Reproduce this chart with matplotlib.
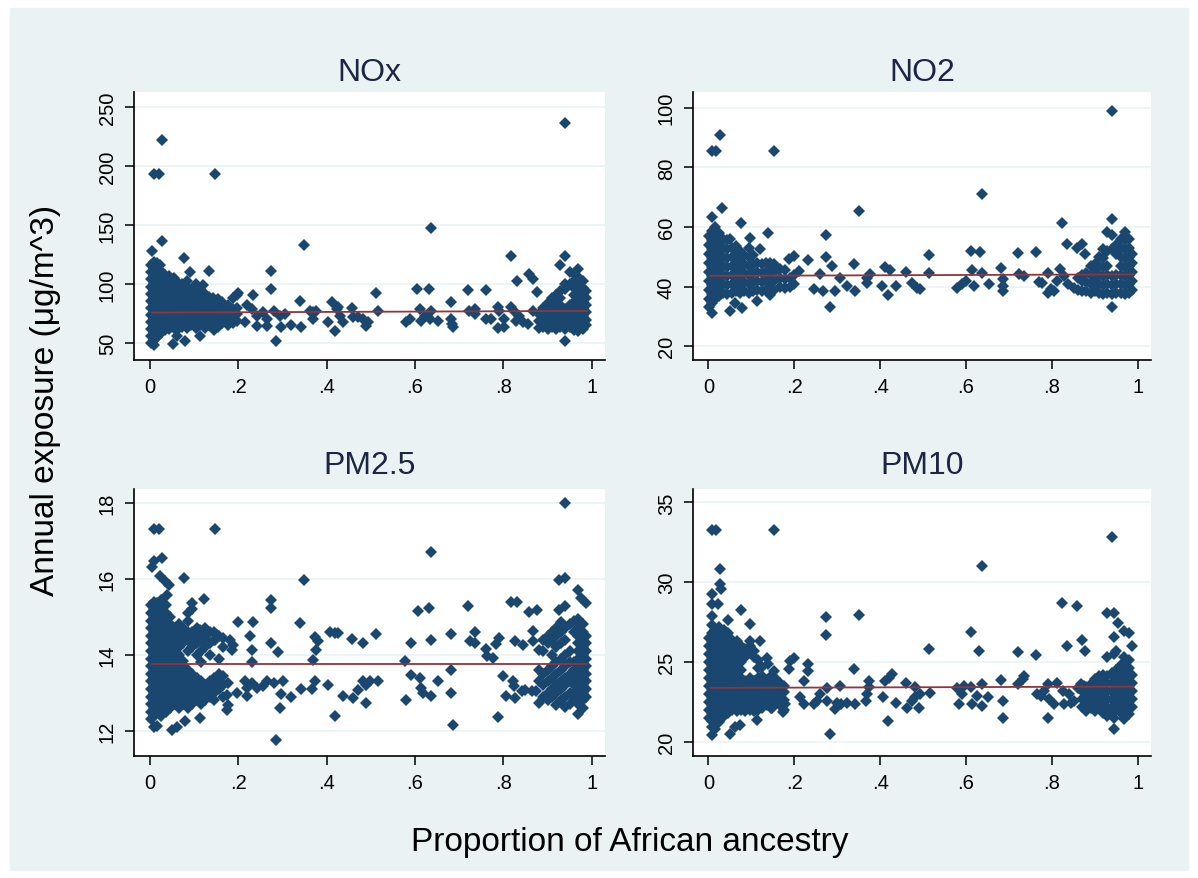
import matplotlib
matplotlib.use("Agg")
import matplotlib.pyplot as plt
from matplotlib.patches import Rectangle

# points, grouped by x: (x, [y values])
nox_cols = [
    (0.002, [50, 56, 62, 68, 74, 80, 86, 92, 98, 104, 110, 116]), (0.005, [127.8]),
    (0.009, [48, 53, 59, 65, 71, 77, 83, 89, 95, 101, 107, 113, 119, 193.2]),
    (0.016, [55, 60, 66, 72, 78, 84, 90, 96, 102, 108, 114, 118]), (0.020, [193.2]),
    (0.024, [58, 63, 69, 75, 81, 87, 93, 99, 105, 112, 116]), (0.028, [136.6, 221.9]),
    (0.034, [61, 66, 72, 78, 84, 90, 96, 102, 108]),
    (0.044, [62, 68, 74, 80, 86, 92, 98, 104, 107]), (0.052, [49]),
    (0.054, [63, 69, 75, 81, 87, 93, 99, 105]), (0.062, [55.7]),
    (0.064, [62, 67, 73, 79, 85, 91, 97, 101]),
    (0.074, [64, 70, 76, 82, 88, 94, 100]), (0.077, [122.4]), (0.080, [51.4]),
    (0.084, [63, 68, 74, 80, 86, 92, 98, 103]), (0.092, [110]),
    (0.094, [65, 71, 77, 83, 89, 95]), (0.104, [63, 69, 75, 81, 87, 93, 100]),
    (0.113, [55.7]), (0.114, [65, 71, 77, 83, 89, 96]), (0.120, [99]),
    (0.124, [63, 68, 74, 80, 86, 92]), (0.133, [110.8]), (0.134, [65, 71, 77, 83, 89]),
    (0.144, [66, 72, 78, 84, 88]), (0.146, [61.4]), (0.148, [193]),
    (0.154, [64, 70, 76, 82, 87]), (0.164, [67, 73, 79, 85]), (0.176, [65, 70, 76, 82]),
    (0.188, [67, 73, 79, 88]), (0.198, [69, 75, 80, 91]),
    (0.200, [92.6]), (0.216, [67.6]), (0.220, [82]), (0.231, [79]), (0.233, [91]),
    (0.242, [64.8, 73]), (0.257, [76]), (0.265, [64.8, 70.5]), (0.274, [96, 110.8]),
    (0.280, [77.6]), (0.285, [51.4]), (0.294, [73]), (0.298, [63.4]), (0.305, [74.7]),
    (0.319, [65.6]), (0.340, [85.5]), (0.342, [63.4]), (0.350, [133]), (0.362, [77.6]),
    (0.370, [70.5, 76]), (0.377, [77.6]), (0.404, [67.6]), (0.413, [84.7]), (0.419, [60.5]),
    (0.423, [79]), (0.426, [81]), (0.430, [73]), (0.438, [67.6]), (0.458, [79.5]),
    (0.460, [72]), (0.471, [72]), (0.482, [70.5]), (0.490, [64.2]), (0.494, [67.6]),
    (0.511, [92.3]), (0.517, [77.6]),
    (0.580, [67.6]), (0.588, [70.5]), (0.605, [96]), (0.611, [79]), (0.614, [69]),
    (0.622, [73]), (0.631, [96]), (0.633, [70.5]), (0.637, [77.6, 147.2]), (0.652, [68.5]),
    (0.682, [70.5, 84.7]), (0.684, [66]), (0.686, [63.4]),
    (0.721, [95]), (0.723, [77.6]), (0.735, [74.7, 79]), (0.761, [70.5, 95]), (0.772, [70.5]),
    (0.787, [62.5, 80.4]), (0.791, [77.6]), (0.802, [63.4, 70.5]), (0.817, [80.4, 123.9]),
    (0.825, [77.6]), (0.829, [69]), (0.831, [102.6]), (0.836, [73]), (0.844, [67.6]),
    (0.855, [66.2]), (0.859, [108.8]), (0.866, [77.6, 104.5]), (0.876, [93.7]),
    (0.880, [63, 69, 75]), (0.890, [64, 70, 76, 80]), (0.900, [62, 67, 73, 79, 84]),
    (0.910, [64, 70, 76, 82, 88]), (0.920, [62, 67, 73, 79, 85, 91]),
    (0.929, [64, 70, 76, 82, 88, 94, 116]),
    (0.940, [52, 62, 67, 73, 79, 96, 100, 124, 236.6]),
    (0.950, [64, 70, 76, 82, 100, 110]),
    (0.960, [61, 67, 73, 79, 85, 91, 97, 103, 109]),
    (0.970, [60, 64, 70, 76, 82, 88, 94, 100, 106, 113]),
    (0.980, [62, 67, 73, 79, 85, 91, 97, 103]), (0.988, [65, 70, 76, 82, 88, 94]),
]

no2_cols = [
    (0.002, [33, 36, 39, 42, 45, 48, 51, 54, 57]),
    (0.008, [31.3, 34.5, 37.5, 40.5, 43.5, 46.5, 49.5, 52.5, 55.5, 58.5, 63.5, 85.5]),
    (0.016, [36, 39, 42, 45, 48, 51, 54, 57, 60]), (0.019, [85.5]),
    (0.024, [37, 40, 43, 46, 49, 52, 55, 58]), (0.027, [90.8]), (0.031, [66.2]),
    (0.034, [38, 41, 44, 47, 50, 53, 56]),
    (0.044, [37.5, 40.5, 43.5, 46.5, 49.5, 52.5, 55.5]), (0.050, [31.8, 55.9]),
    (0.054, [38, 41, 44, 47, 50, 53]), (0.062, [34.6]),
    (0.064, [38.5, 41.5, 44.5, 47.5, 50.5, 53.5]),
    (0.074, [38, 41, 44, 47, 50, 52]), (0.075, [61.5]), (0.079, [32.7]),
    (0.084, [38.5, 41.5, 44.5, 47.5, 50.5]), (0.094, [38, 41, 44, 47, 50, 53]),
    (0.097, [56.4]), (0.104, [38.5, 41.5, 44.5, 47.5, 50.5]), (0.113, [35.2]),
    (0.114, [39, 42, 45, 48]), (0.121, [52.5]), (0.124, [38.5, 41.5, 44.5, 47.5]),
    (0.134, [39, 42, 45, 48]), (0.138, [57.9]), (0.144, [37.1, 39.5, 42.5, 45.5, 48]),
    (0.152, [85.5]), (0.154, [39, 42, 45, 47.5]), (0.166, [40, 43, 46]),
    (0.178, [39.5, 42.5, 45.5]), (0.187, [49.2]), (0.190, [40, 43]), (0.200, [41, 44, 50.3]),
    (0.210, [45.3]), (0.232, [49]), (0.245, [39.1]), (0.260, [44.1]), (0.268, [38.5]),
    (0.274, [50, 57.3]), (0.284, [33]), (0.288, [46.9]), (0.296, [38.5]), (0.307, [43]),
    (0.323, [40.2]), (0.339, [47.5]), (0.342, [38.5]), (0.350, [65.4]), (0.370, [41.3, 43]),
    (0.377, [44.1]), (0.405, [40.2]), (0.412, [46.6]), (0.419, [37.1]), (0.424, [45.5]),
    (0.436, [40.2]), (0.460, [44.9]), (0.475, [41.3]), (0.486, [39.7]), (0.494, [39.1]),
    (0.514, [44.7, 50.6]),
    (0.580, [39.7]), (0.591, [40.8]), (0.600, [41.9]), (0.611, [52]), (0.613, [45.5]),
    (0.619, [40.2]), (0.632, [51.6]), (0.638, [44.7, 71]), (0.654, [40.8]), (0.682, [46.4]),
    (0.685, [38.5, 40.2, 42.5]),
    (0.720, [51.2]), (0.724, [44.1]), (0.735, [43.6]), (0.763, [51.6]), (0.770, [41.6]),
    (0.778, [41.3]), (0.790, [37.8, 44.7]), (0.798, [39.1]), (0.805, [38.5]), (0.813, [41.9]),
    (0.820, [45.8]), (0.823, [61.5]), (0.829, [43.6]), (0.835, [54.2]), (0.837, [40.8]),
    (0.852, [39.7]), (0.858, [53.1]), (0.860, [39, 43]), (0.870, [38.5, 42, 44, 54.2]),
    (0.877, [51]), (0.880, [38.5, 41.5, 44.5]), (0.890, [38, 41, 44, 47]),
    (0.900, [38.5, 41.5, 44.5, 47.5]), (0.910, [38, 41, 44, 47, 50]),
    (0.920, [37.5, 40.5, 43.5, 46.5, 49.5, 52.5]), (0.928, [38, 41, 44, 47, 52, 58.3]),
    (0.940, [33, 37.5, 40.5, 43.5, 52.5, 57.3, 62.6, 98.9]), (0.950, [38, 41, 44, 51, 54]),
    (0.960, [38, 41, 44, 47, 50, 53, 56]),
    (0.970, [37.5, 40.5, 43.5, 46.5, 49.5, 52.5, 55.5, 58.3]),
    (0.980, [38, 41, 44, 47, 50, 53, 56]), (0.987, [39, 42, 45, 48, 51]),
]

pm25_cols = [
    (0.002, [12.3, 12.5, 12.7, 12.9, 13.1, 13.3, 13.5, 13.7, 13.9, 14.1, 14.3, 14.5, 14.7, 14.9, 15.1, 15.3]),
    (0.005, [16.32]),
    (0.009, [12.09, 12.4, 12.6, 12.8, 13.0, 13.2, 13.4, 13.6, 13.8, 14.0, 14.2, 14.4, 14.6, 14.8, 15.0, 15.2, 15.4, 16.46, 17.31]),
    (0.017, [12.14, 12.5, 12.7, 12.9, 13.1, 13.3, 13.5, 13.7, 13.9, 14.1, 14.3, 14.5, 14.7, 14.9, 15.1, 15.35]),
    (0.020, [17.31]), (0.024, [16.06]),
    (0.026, [12.4, 12.6, 12.8, 13.0, 13.2, 13.4, 13.6, 13.8, 14.0, 14.2, 14.4, 14.6, 14.8, 15.0, 15.2, 15.45]),
    (0.028, [16.54]), (0.035, [15.93]),
    (0.036, [12.5, 12.7, 12.9, 13.1, 13.3, 13.5, 13.7, 13.9, 14.1, 14.3, 14.5, 14.7, 14.9, 15.1, 15.3]),
    (0.039, [15.58]), (0.043, [15.84]),
    (0.046, [12.6, 12.8, 13.0, 13.2, 13.4, 13.6, 13.8, 14.0, 14.2, 14.4, 14.6, 14.8, 15.0]),
    (0.050, [12.03]),
    (0.056, [12.7, 12.9, 13.1, 13.3, 13.5, 13.7, 13.9, 14.1, 14.3, 14.5, 14.7]),
    (0.062, [12.09]),
    (0.066, [12.6, 12.8, 13.0, 13.2, 13.4, 13.6, 13.8, 14.0, 14.2, 14.4, 14.6, 14.8]),
    (0.076, [12.7, 12.9, 13.1, 13.3, 13.5, 13.7, 13.85, 14.3, 14.5, 14.7]),
    (0.077, [16.02]), (0.080, [12.26]),
    (0.086, [12.6, 12.8, 13.0, 13.2, 13.4, 13.6, 14.1, 14.4, 14.6, 14.9, 15.1]),
    (0.096, [12.7, 12.9, 13.1, 13.3, 13.5, 14.2, 14.4, 14.6, 15.2, 15.35]),
    (0.106, [12.8, 13.0, 13.2, 13.4, 14.0, 14.3, 14.5, 14.7]), (0.114, [12.35, 14.66]),
    (0.116, [12.7, 12.9, 13.1, 13.3, 13.8, 14.1, 14.4, 14.6]), (0.122, [15.47]),
    (0.126, [12.8, 13.0, 13.2, 14.2, 14.5, 14.7]), (0.129, [14.35]),
    (0.136, [12.9, 13.1, 13.3, 14.0, 14.3, 14.6]), (0.146, [12.8, 13.0, 13.2, 13.4, 14.4, 14.6]),
    (0.148, [14.39, 17.31]), (0.152, [14.53]), (0.156, [13.1, 13.3, 13.5, 13.9, 14.5]),
    (0.166, [12.9, 13.2, 13.45, 14.2, 14.45]), (0.174, [12.55, 12.95]), (0.178, [12.68, 13.25]),
    (0.182, [14.39]), (0.186, [14.13]), (0.189, [14.26]), (0.197, [13.0]),
    (0.200, [14.86]), (0.216, [13.3]), (0.220, [12.93, 13.14]), (0.227, [14.5]),
    (0.231, [13.25, 13.82, 14.13]), (0.233, [14.86]), (0.242, [13.12]), (0.257, [13.17]),
    (0.265, [13.3]), (0.274, [14.31, 15.23, 15.45]), (0.280, [13.25]), (0.285, [11.75]),
    (0.291, [14.07]), (0.295, [12.6]), (0.298, [12.96]), (0.302, [13.32]), (0.319, [12.9]),
    (0.340, [14.83]), (0.342, [13.1]), (0.350, [15.96]), (0.366, [13.1]), (0.370, [13.87]),
    (0.374, [13.32, 14.46]), (0.377, [14.13]), (0.381, [14.37]), (0.404, [13.21]),
    (0.407, [14.59]), (0.419, [12.4, 14.57]), (0.426, [14.57]), (0.438, [12.93]),
    (0.458, [14.42]), (0.460, [12.86]), (0.471, [13.08]), (0.483, [13.3, 14.31]),
    (0.490, [12.73, 13.21]), (0.498, [13.3]), (0.511, [14.54]), (0.517, [13.3]),
    (0.577, [13.85]), (0.580, [12.8]), (0.592, [13.47, 14.31]), (0.607, [15.16]),
    (0.611, [13.39]), (0.614, [13.12]), (0.618, [12.99]), (0.631, [15.23]),
    (0.637, [12.93, 14.38, 16.69]), (0.652, [13.3]), (0.682, [12.99, 13.61, 14.54]), (0.686, [12.16]),
    (0.720, [15.27]), (0.724, [14.37]), (0.735, [14.31, 14.6]), (0.761, [14.15]), (0.764, [13.96]),
    (0.776, [13.91]), (0.783, [14.28]), (0.787, [12.36]), (0.791, [14.44]), (0.799, [13.43]),
    (0.805, [12.93]), (0.817, [15.39]), (0.821, [13.3]), (0.825, [13.17]), (0.826, [14.37]),
    (0.827, [12.86]), (0.832, [15.39]), (0.842, [13.04]), (0.844, [14.26]), (0.850, [13.08]),
    (0.859, [15.12]), (0.865, [13.04]), (0.866, [14.35, 14.63]), (0.874, [13.04]), (0.877, [15.18]),
    (0.881, [12.73, 13.3, 13.61, 14.13]),
    (0.890, [12.9, 13.2, 13.5, 14.1, 14.4]), (0.900, [12.8, 13.0, 13.3, 13.6, 14.3, 14.5]),
    (0.910, [12.9, 13.1, 13.4, 13.7, 14.0, 14.4, 14.6]),
    (0.919, [12.68, 13.0, 13.2, 13.5, 13.8, 14.2, 14.5, 14.7]), (0.925, [15.18, 15.96]),
    (0.930, [12.8, 13.1, 13.3, 13.6, 13.9, 14.3, 14.6, 14.85]),
    (0.939, [12.64, 12.9, 13.2, 13.4, 13.7, 14.0, 14.4, 14.7, 15.27, 16.02, 17.99]),
    (0.950, [12.7, 13.0, 13.3, 13.5, 13.8, 14.1, 14.8]),
    (0.960, [12.8, 13.0, 13.2, 13.4, 13.6, 13.8, 14.6, 14.9]),
    (0.969, [12.45, 12.7, 12.9, 13.1, 13.3, 13.5, 13.7, 13.9, 14.1, 14.3, 14.5, 14.7, 14.95, 15.71]),
    (0.976, [15.49]),
    (0.980, [12.6, 12.8, 13.0, 13.2, 13.4, 13.6, 13.8, 14.0, 14.2, 14.4, 14.6, 14.8]),
    (0.986, [12.9, 13.1, 13.3, 13.5, 13.7, 13.9, 14.1, 14.3, 14.5, 15.36]),
]

pm10_cols = [
    (0.002, [21.5, 22.0, 22.5, 23.0, 23.5, 24.0, 24.5, 25.0, 25.5, 26.0, 26.5]),
    (0.008, [20.4, 20.9, 21.3, 21.8, 22.3, 22.8, 23.3, 23.8, 24.3, 24.8, 25.3, 25.8, 26.3, 26.8, 27.3, 27.9, 28.6, 29.24, 33.29]),
    (0.016, [20.8, 21.5, 22.0, 22.5, 23.0, 23.5, 24.0, 24.5, 25.0, 25.5, 26.0, 26.5, 27.0]),
    (0.019, [33.29]), (0.023, [28.6]),
    (0.026, [21.2, 21.8, 22.3, 22.8, 23.3, 23.8, 24.3, 24.8, 25.3, 25.8, 26.3, 26.8, 27.2]),
    (0.027, [29.86, 30.8]), (0.030, [29.55]),
    (0.036, [21.6, 22.0, 22.5, 23.0, 23.5, 24.0, 24.5, 25.0, 25.5, 26.0, 26.5, 27.0]),
    (0.046, [21.8, 22.3, 22.8, 23.3, 23.8, 24.3, 24.8, 25.3, 25.8, 26.3, 26.8, 27.63]),
    (0.050, [20.49]),
    (0.056, [22.0, 22.5, 23.0, 23.5, 24.0, 24.5, 25.0, 25.5, 26.0, 26.4]),
    (0.062, [20.92]),
    (0.066, [21.9, 22.3, 22.8, 23.3, 23.8, 24.3, 24.8, 25.3, 25.8, 26.3]),
    (0.074, [21.07]), (0.075, [28.24]),
    (0.076, [22.0, 22.5, 23.0, 23.5, 24.0, 24.5, 25.0, 25.5, 26.0]),
    (0.086, [21.9, 22.3, 22.8, 23.3, 23.8, 25.3, 25.8]),
    (0.096, [22.0, 22.5, 23.0, 23.5, 24.0, 25.6, 26.0]), (0.097, [26.3, 27.36]),
    (0.106, [21.9, 22.3, 22.8, 23.3, 23.8, 25.3, 25.7]), (0.113, [21.34]),
    (0.116, [22.0, 22.5, 23.0, 23.5, 24.0, 24.6, 25.1]), (0.121, [26.3]),
    (0.126, [22.1, 22.6, 23.1, 23.6, 24.1, 24.7]),
    (0.136, [22.3, 22.55, 22.8, 23.3, 23.8, 25.27]), (0.140, [24.85]),
    (0.146, [22.1, 22.6, 23.1, 23.6, 24.1]), (0.148, [22.14]), (0.152, [24.44, 33.29]),
    (0.156, [22.5, 23.0, 23.5, 24.0]), (0.166, [22.3, 22.8, 23.3, 23.7]), (0.167, [23.18]),
    (0.175, [21.83]), (0.176, [22.0, 22.6, 23.1, 23.5]), (0.179, [22.35]),
    (0.187, [24.54]), (0.190, [25.06]),
    (0.200, [25.27]), (0.214, [22.77]), (0.222, [22.35]), (0.223, [23.81]), (0.232, [24.44, 24.85]),
    (0.245, [22.35]), (0.253, [22.55]), (0.261, [22.97]), (0.274, [26.67, 27.84]),
    (0.276, [22.55, 23.39]), (0.284, [20.51]), (0.296, [22.04]), (0.300, [22.45]), (0.307, [23.5]),
    (0.310, [22.35]), (0.323, [22.45]), (0.339, [24.58]), (0.342, [22.35]), (0.350, [27.92]),
    (0.366, [22.56]), (0.370, [22.97]), (0.374, [23.43, 23.81]), (0.406, [22.77]), (0.412, [23.81]),
    (0.418, [21.3]), (0.420, [24.02]), (0.428, [24.23]), (0.436, [22.41]), (0.460, [23.7]),
    (0.463, [22.14]), (0.475, [22.55]), (0.482, [22.77, 23.43]), (0.490, [22.14]), (0.494, [22.97]),
    (0.514, [25.79]), (0.516, [23.02]),
    (0.580, [23.39]), (0.584, [22.35]), (0.591, [22.97]), (0.595, [23.5]), (0.611, [23.43, 26.88]),
    (0.615, [22.35]), (0.626, [22.87]), (0.630, [25.69]), (0.638, [22.24, 23.6, 31.01]),
    (0.652, [22.81]), (0.682, [23.87]), (0.685, [22.55]), (0.687, [21.5]),
    (0.720, [23.64, 25.63]), (0.732, [23.91]), (0.735, [24.12]), (0.763, [25.42]), (0.766, [22.97]),
    (0.774, [22.87]), (0.782, [23.18]), (0.790, [21.47, 23.6]), (0.794, [22.66]), (0.805, [22.35]),
    (0.813, [23.7]), (0.823, [28.72]), (0.825, [23.18]), (0.829, [22.35]), (0.835, [26.0]),
    (0.840, [22.97]), (0.844, [22.45]), (0.852, [22.55]), (0.858, [28.5]), (0.860, [23.39]),
    (0.868, [23.6]), (0.870, [22.2, 22.7, 23.2, 26.38]), (0.875, [23.5]), (0.877, [25.69]),
    (0.880, [21.9, 22.4, 22.9, 23.4]), (0.890, [22.1, 22.6, 23.1, 23.6]),
    (0.900, [21.9, 22.4, 22.9, 23.4, 23.9]), (0.910, [22.2, 22.7, 23.2, 23.7, 24.1]),
    (0.920, [21.8, 22.3, 22.8, 23.3, 23.8, 24.2]),
    (0.928, [21.62, 22.1, 22.6, 23.1, 23.6, 24.1, 25.3, 28.05]),
    (0.939, [21.72, 22.2, 22.7, 23.2, 23.7, 24.3, 32.83]),
    (0.944, [20.78, 21.51, 25.5, 26.59, 28.05]),
    (0.950, [22.0, 22.5, 23.0, 23.5, 24.0, 24.5, 25.7]), (0.953, [27.46]),
    (0.960, [21.8, 22.3, 22.8, 23.3, 23.8, 24.3, 24.8]),
    (0.969, [21.41, 21.9, 22.4, 22.9, 23.4, 23.9, 24.4, 24.9, 25.3, 26.94]),
    (0.980, [21.72, 22.1, 22.6, 23.1, 23.6, 24.1, 24.6, 25.1, 26.84]),
    (0.986, [22.2, 22.7, 23.2, 23.7, 24.2, 26.0]),
]

# fitted lines (ends)
fit_x = [0.005, 0.99]
nox_fit = [75.9, 77.3]
no2_fit = [43.6, 44.1]
pm25_fit = [13.75, 13.75]
pm10_fit = [23.37, 23.45]

titles = ["NOx", "NO2", "PM2.5", "PM10"]
yticks = [[50, 100, 150, 200, 250], [20, 40, 60, 80, 100], [12, 14, 16, 18], [20, 25, 30, 35]]
ylims = [(36, 263), (15.5, 105.3), (11.34, 18.36), (19.1, 35.84)]
xticks = [0, 0.2, 0.4, 0.6, 0.8, 1]
xticklabels = ["0", ".2", ".4", ".6", ".8", "1"]

BG = "#eaf2f3"
NAVY = "#1a476f"
RED = "#90353b"
TXT = "#1c2541"
plt.rcParams["font.family"] = ["Liberation Sans", "DejaVu Sans"]

fig = plt.figure(figsize=(11.98, 8.79), dpi=100, facecolor="white")
fig.patches.append(Rectangle((10 / 1198, 8 / 879), 1178 / 1198, 862 / 879,
                             transform=fig.transFigure, color=BG, zorder=-10))

positions = [
    [0.1121, 0.5897, 0.3929, 0.3046],
    [0.5787, 0.5897, 0.3818, 0.3046],
    [0.1121, 0.1388, 0.3929, 0.3038],
    [0.5787, 0.1388, 0.3818, 0.3038],
]
title_pos = [(0.3085, 0.917), (0.7696, 0.917), (0.3085, 0.4698), (0.7696, 0.4698)]
all_cols = [nox_cols, no2_cols, pm25_cols, pm10_cols]
all_fits = [nox_fit, no2_fit, pm25_fit, pm10_fit]

for i in range(4):
    ax = fig.add_axes(positions[i])
    ax.set_facecolor("white")
    cols = all_cols[i]
    xs = [x for x, ys in cols for _ in ys]
    ys = [y for _, yy in cols for y in yy]
    for yt in yticks[i]:
        ax.axhline(yt, color=BG, lw=1.2, zorder=0)
    ax.plot(xs, ys, linestyle="none", marker="D", ms=6.2, color=NAVY,
            markeredgewidth=0, zorder=2)
    ax.plot(fit_x, all_fits[i], color=RED, lw=1.3, zorder=3)
    ax.set_xlim(-0.035, 1.03)
    ax.set_ylim(*ylims[i])
    ax.set_xticks(xticks)
    ax.set_xticklabels(xticklabels)
    ax.set_yticks(yticks[i])
    ax.set_yticklabels([str(v) for v in yticks[i]], rotation=90, va="center")
    for s in ["top", "right"]:
        ax.spines[s].set_visible(False)
    for s in ["left", "bottom"]:
        ax.spines[s].set_linewidth(1.2)
        ax.spines[s].set_color("#000000")
    ax.tick_params(axis="both", direction="out", length=6.5, width=1.1,
                   labelsize=14.5, colors="#000000", pad=6)
    fig.text(title_pos[i][0], title_pos[i][1], titles[i], ha="center", va="center",
             fontsize=23, color=TXT)

fig.text(0.0376, 0.545, "Annual exposure (\u03bcg/m^3)", rotation=90, ha="center",
         va="center", fontsize=24, color="#000000")
fig.text(0.526, 0.041, "Proportion of African ancestry", ha="center", va="center",
         fontsize=24, color="#000000")

fig.savefig("out.png", dpi=100, facecolor=fig.get_facecolor())
